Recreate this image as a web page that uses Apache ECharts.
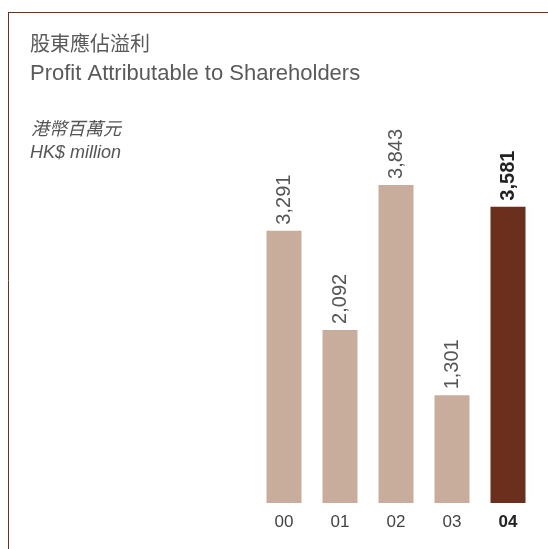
<!DOCTYPE html>
<html>
<head>
<meta charset="utf-8">
<script src="https://cdn.jsdelivr.net/npm/echarts@6/dist/echarts.min.js"></script>
<style>
  html, body { margin: 0; padding: 0; background: #fff; }
  #profitChart { width: 548px; height: 549px; }
</style>
</head>
<body>
<div id="profitChart"></div>
<script>
// Profit attributable to shareholders, HK$ million
const years = ['00', '01', '02', '03', '04'];
const profit = [3291, 2092, 3843, 1301, 3581];
const highlightYear = '04';

const lightBar = '#c8ad9c';
const darkBar = '#6b2f1e';

const chart = echarts.init(document.getElementById('profitChart'));

const barData = profit.map((v, i) => {
    const isHi = years[i] === highlightYear;
    return {
        value: v,
        itemStyle: { color: isHi ? darkBar : lightBar },
        label: {
            color: isHi ? '#222' : '#555',
            fontWeight: isHi ? 'bold' : 'normal'
        }
    };
});

const option = {
    animation: false,
    grid: {
        left: 256,
        right: 12,
        top: 172,
        bottom: 46
    },
    xAxis: {
        type: 'category',
        data: years,
        axisLine: { show: false },
        axisTick: { show: false },
        axisLabel: {
            interval: 0,
            margin: 11,
            fontSize: 17,
            fontFamily: 'Liberation Sans, Arial, sans-serif',
            color: '#444',
            formatter: (val) => val === highlightYear ? '{b|' + val + '}' : val,
            rich: {
                b: { fontWeight: 'bold', color: '#222', fontSize: 17, fontFamily: 'Liberation Sans, Arial, sans-serif' }
            }
        }
    },
    yAxis: {
        type: 'value',
        min: 0,
        max: 4000,
        show: false,
        splitLine: { show: false }
    },
    series: [{
        type: 'bar',
        data: barData,
        barWidth: 35,
        label: {
            show: true,
            position: 'top',
            rotate: 90,
            align: 'left',
            verticalAlign: 'middle',
            distance: 6,
            fontSize: 20,
            fontFamily: 'Liberation Sans, Arial, sans-serif',
            formatter: (p) => p.value.toLocaleString('en-US')
        }
    }],
    graphic: [
        // frame lines
        { type: 'line', shape: { x1: 8, y1: 12.5, x2: 548, y2: 12.5 }, style: { stroke: darkBar, lineWidth: 1 } },
        { type: 'line', shape: { x1: 8.5, y1: 12, x2: 8.5, y2: 549 }, style: { stroke: darkBar, lineWidth: 1 } },
        {
            type: 'text', left: 30, top: 33,
            style: { text: '股東應佔溢利', fontSize: 20, fill: '#5a5a5a', fontFamily: 'Noto Sans CJK TC, sans-serif' }
        },
        {
            type: 'text', left: 30, top: 63,
            style: { text: 'Profit Attributable to Shareholders', fontSize: 22, fill: '#5a5a5a', fontFamily: 'Liberation Sans, Arial, sans-serif' }
        },
        {
            type: 'text', left: 31, top: 119,
            style: { text: '港幣百萬元', fontSize: 18, fill: '#555', fontStyle: 'italic', fontFamily: 'Noto Sans CJK TC, sans-serif' }
        },
        {
            type: 'text', left: 30, top: 144,
            style: { text: 'HK$ million', fontSize: 18, fill: '#555', fontStyle: 'italic', fontFamily: 'Liberation Sans, Arial, sans-serif' }
        }
    ]
};

chart.setOption(option);
</script>
</body>
</html>
